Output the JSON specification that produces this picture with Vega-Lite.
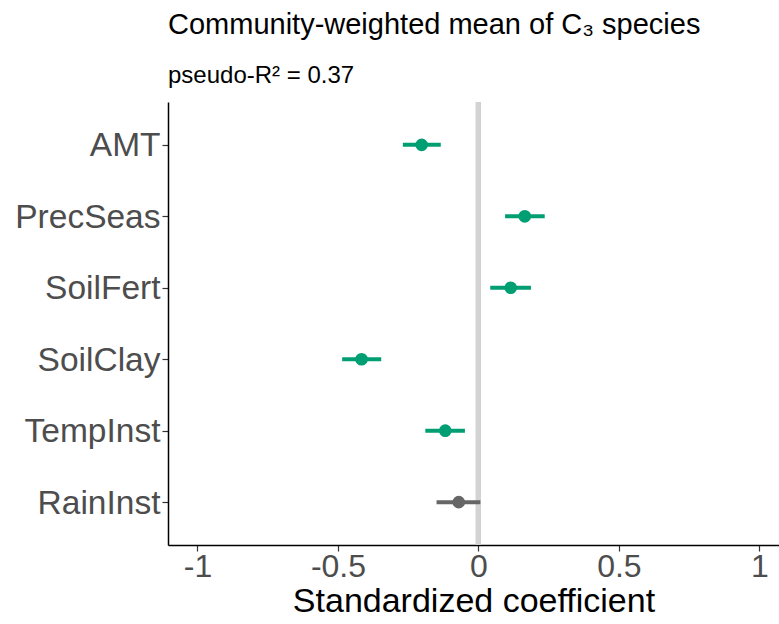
{
  "$schema": "https://vega.github.io/schema/vega-lite/v6.json",
  "autosize": {"type": "none"},
  "padding": {"left": 168, "top": 102, "right": 0, "bottom": 79},
  "width": 611,
  "height": 443,
  "background": "white",
  "config": {
    "view": {"stroke": null},
    "font": "Liberation Sans"
  },
  "title": {
    "text": "Community-weighted mean of C₃ species",
    "subtitle": "pseudo-R² = 0.37",
    "anchor": "start",
    "frame": "group",
    "font": "Liberation Sans",
    "subtitleFont": "Liberation Sans",
    "fontSize": 29,
    "fontWeight": "normal",
    "color": "black",
    "subtitleFontSize": 24,
    "subtitleColor": "black",
    "subtitlePadding": 24,
    "offset": 12
  },
  "data": {
    "values": [
      {"term": "AMT", "est": -0.202, "lo": -0.269, "hi": -0.134, "sig": "yes"},
      {"term": "PrecSeas", "est": 0.165, "lo": 0.095, "hi": 0.236, "sig": "yes"},
      {"term": "SoilFert", "est": 0.115, "lo": 0.042, "hi": 0.187, "sig": "yes"},
      {"term": "SoilClay", "est": -0.416, "lo": -0.485, "hi": -0.346, "sig": "yes"},
      {"term": "TempInst", "est": -0.118, "lo": -0.189, "hi": -0.048, "sig": "yes"},
      {"term": "RainInst", "est": -0.070, "lo": -0.149, "hi": 0.007, "sig": "no"}
    ]
  },
  "encoding": {
    "y": {
      "field": "term",
      "type": "nominal",
      "sort": null,
      "scale": {"type": "point", "padding": 0.6},
      "axis": {
        "title": null,
        "labelFontSize": 33.5,
        "labelColor": "#4D4D4D",
        "labelPadding": 2,
        "labelOffset": 1,
        "tickColor": "#333333",
        "tickSize": 6,
        "tickWidth": 1.2,
        "domainColor": "black",
        "domainWidth": 1.5,
        "grid": false
      }
    }
  },
  "layer": [
    {
      "mark": {"type": "rule", "color": "#D3D3D3", "strokeWidth": 5},
      "encoding": {
        "x": {"datum": 0, "type": "quantitative"},
        "y": null
      }
    },
    {
      "mark": {"type": "rule", "strokeWidth": 4},
      "encoding": {
        "x": {
          "field": "lo",
          "type": "quantitative",
          "scale": {"domain": [-1.105, 1.07], "nice": false, "zero": false},
          "axis": {
            "title": "Standardized coefficient",
            "titleFontSize": 34,
            "titleFontWeight": "normal",
            "titleColor": "black",
            "titlePadding": 2,
            "values": [-1, -0.5, 0, 0.5, 1],
            "labelExpr": "toString(datum.value)",
            "labelFontSize": 32,
            "labelColor": "#4D4D4D",
            "labelPadding": 0,
            "tickColor": "#333333",
            "tickSize": 6,
            "tickWidth": 1.2,
            "domainColor": "black",
            "domainWidth": 1.5,
            "grid": false
          }
        },
        "x2": {"field": "hi"},
        "color": {
          "field": "sig",
          "type": "nominal",
          "scale": {"domain": ["yes", "no"], "range": ["#009E73", "#666666"]},
          "legend": null
        }
      }
    },
    {
      "mark": {"type": "point", "filled": true, "opacity": 1, "size": 160},
      "encoding": {
        "x": {"field": "est", "type": "quantitative"},
        "color": {"field": "sig", "type": "nominal"}
      }
    }
  ]
}
